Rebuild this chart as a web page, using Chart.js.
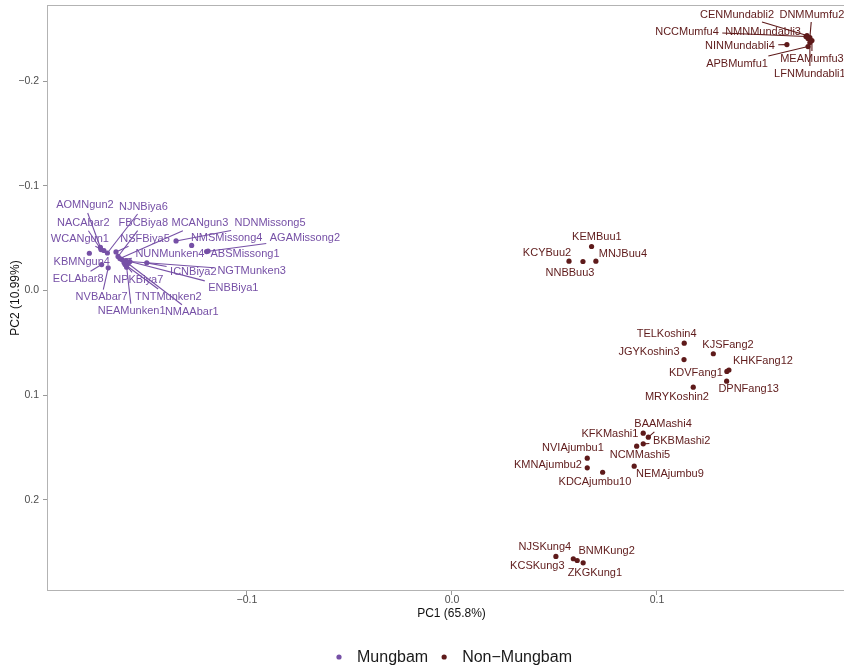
<!DOCTYPE html>
<html>
<head>
<meta charset="utf-8">
<script src="https://cdn.jsdelivr.net/npm/chart.js@4.4.0/dist/chart.umd.min.js"></script>
<style>
  html, body { margin: 0; padding: 0; background: #ffffff; overflow: hidden; }
  /* the figure is a little wider than the window and is cut at the right edge */
  #wrap { width: 844px; height: 668px; overflow: hidden; }
  #pca { display: block; }
</style>
</head>
<body>
<div id="wrap"><canvas id="pca" width="857" height="668"></canvas></div>
<script>
// ---- PCA scores ----
const mungbamNames = ['AOMNgun2','NACAbar2','WCANgun1','NJNBiya6','FBCBiya8','NSFBiya5','KBMNgun4','ECLAbar8','NVBAbar7','MCANgun3','NPKBiya7','NEAMunken1','TNTMunken2','NMAAbar1','NUNMunken4','ICNBiya2','NGTMunken3','ENBBiya1','NDNMissong5','NMSMissong4','AGAMissong2','ABSMissong1'];
const mungbamPC1 = [-0.1715,-0.1712,-0.1698,-0.1681,-0.1629,-0.1639,-0.1769,-0.1709,-0.1677,-0.1620,-0.1600,-0.1587,-0.1595,-0.1580,-0.1610,-0.1489,-0.1571,-0.1590,-0.1346,-0.1270,-0.1197,-0.1190];
const mungbamPC2 = [-0.0411,-0.0391,-0.0382,-0.0358,-0.0325,-0.0368,-0.0356,-0.0248,-0.0217,-0.0305,-0.0267,-0.0222,-0.0248,-0.0258,-0.0296,-0.0264,-0.0277,-0.0286,-0.0473,-0.0430,-0.0372,-0.0377];

const otherNames = ['CENMundabli2','DNMMumfu2','NCCMumfu4','NMNMundabli3','NINMundabli4','MEAMumfu3','APBMumfu1','LFNMundabli1','KEMBuu1','KCYBuu2','NNBBuu3','MNJBuu4','TELKoshin4','JGYKoshin3','KJSFang2','KHKFang12','KDVFang1','DPNFang13','MRYKoshin2','KFKMashi1','BAAMashi4','BKBMashi2','NCMMashi5','NVIAjumbu1','KMNAjumbu2','KDCAjumbu10','NEMAjumbu9','NJSKung4','KCSKung3','BNMKung2','ZKGKung1'];
const otherPC1 = [0.1732,0.1746,0.1727,0.1737,0.1634,0.1756,0.1737,0.1746,0.0681,0.0571,0.0639,0.0702,0.1133,0.1132,0.1275,0.1351,0.1341,0.1340,0.1177,0.0933,0.0958,0.0933,0.0901,0.0660,0.0660,0.0735,0.0889,0.0507,0.0592,0.0611,0.0640];
const otherPC2 = [-0.2434,-0.2415,-0.2425,-0.2406,-0.2348,-0.2387,-0.2329,-0.2368,-0.0420,-0.0280,-0.0277,-0.0280,0.0503,0.0659,0.0604,0.0759,0.0773,0.0866,0.0923,0.1362,0.1400,0.1464,0.1486,0.1601,0.1693,0.1735,0.1677,0.2539,0.2561,0.2578,0.2600];

const groupNames = ['Mungbam', 'Non\u2212Mungbam'];

const xTickValues = [-0.1, 0.0, 0.1];
const xTickLabels = ['\u22120.1', '0.0', '0.1'];
const yTickValues = [-0.2, -0.1, 0.0, 0.1, 0.2];
const yTickLabels = ['\u22120.2', '\u22120.1', '0.0', '0.1', '0.2'];

// ---- styling ----
const PURPLE = '#7650a6';
const MAROON = '#5e1a1a';
const FONT = '"Liberation Sans", Arial, Helvetica, sans-serif';

// label placement (pixel offset of each label centre from its point)
const labelNudge = {
  AOMNgun2: [-15.5, -42], NACAbar2: [-17.7, -26.3], WCANgun1: [-24, -11.7], NJNBiya6: [36, -46.5],
  FBCBiya8: [25.3, -33.3], NSFBiya5: [29, -13.2], KBMNgun4: [-7.6, 9], ECLAbar8: [-23.4, 14.3],
  NVBAbar7: [-6.6, 29.4], MCANgun3: [80, -35.3], NPKBiya7: [14.3, 17.3], NEAMunken1: [5, 44],
  TNTMunken2: [43.3, 32], NMAAbar1: [63.7, 48.7], NUNMunken4: [48, -5.7], ICNBiya2: [46.6, 8.7],
  NGTMunken3: [121.7, 9], ENBBiya1: [107.3, 27.7], NDNMissong5: [94, -17.8], NMSMissong4: [35, -7.3],
  AGAMissong2: [98.3, -13.3], ABSMissong1: [37, 2.8],
  CENMundabli2: [-70, -21], DNMMumfu2: [2, -23], NCCMumfu4: [-119, -5], NMNMundabli3: [-45, -7],
  NINMundabli4: [-47, 1], MEAMumfu3: [0, 18], APBMumfu1: [-71, 17], LFNMundabli1: [0, 31],
  KEMBuu1: [5.3, -10], KCYBuu2: [-22, -8.7], NNBBuu3: [-13, 11], MNJBuu4: [27, -7.7],
  TELKoshin4: [-17.6, -9.4], JGYKoshin3: [-35, -8], KJSFang2: [14.7, -9.3], KHKFang12: [34, -9],
  KDVFang1: [-31, 1], DPNFang13: [22, 8], MRYKoshin2: [-16.3, 9.3],
  KFKMashi1: [-33.3, 0.6], BAAMashi4: [14.7, -12.7], BKBMashi2: [38.4, -2.6], NCMMashi5: [3.3, 9.3],
  NVIAjumbu1: [-14.3, -10], KMNAjumbu2: [-39.3, -3.3], KDCAjumbu10: [-7.7, 10], NEMAjumbu9: [35.7, 7.6],
  NJSKung4: [-11, -9.3], KCSKung3: [-36, 7.7], BNMKung2: [29.4, -9.3], ZKGKung1: [11.7, 10.4]
};

const toPoints = (xs, ys) => xs.map((x, i) => ({ x: x, y: ys[i] }));

// panel border
const panelBorder = {
  id: 'panelBorder',
  afterDraw(chart) {
    const { ctx, chartArea: a } = chart;
    ctx.save();
    ctx.strokeStyle = '#b3b3b3';
    ctx.lineWidth = 1;
    ctx.strokeRect(Math.round(a.left) + 0.5, Math.round(a.top) + 0.5,
                   Math.round(a.right - a.left) - 1, Math.round(a.bottom - a.top) - 1);
    ctx.restore();
  }
};

// text labels with leader segments (segment runs from the point to the padded label box)
const pointLabels = {
  id: 'pointLabels',
  afterDatasetsDraw(chart) {
    const ctx = chart.ctx;
    ctx.save();
    ctx.font = '11px ' + FONT;
    ctx.textAlign = 'center';
    ctx.textBaseline = 'middle';
    const items = [];
    chart.data.datasets.forEach((ds, di) => {
      chart.getDatasetMeta(di).data.forEach((el, i) => {
        const name = ds.names[i];
        const off = labelNudge[name] || [0, -10];
        items.push({ name, px: el.x, py: el.y, lx: el.x + off[0], ly: el.y + off[1], color: ds.backgroundColor });
      });
    });
    items.forEach(it => {
      const hw = ctx.measureText(it.name).width / 2 + 3.5, hh = 7.5;
      const ux = it.px - it.lx, uy = it.py - it.ly;
      const t = Math.min(ux === 0 ? Infinity : hw / Math.abs(ux), uy === 0 ? Infinity : hh / Math.abs(uy));
      if (t >= 1) return;
      const ex = it.lx + ux * t, ey = it.ly + uy * t;
      if (Math.hypot(it.px - ex, it.py - ey) < 6) return;
      ctx.strokeStyle = it.color;
      ctx.lineWidth = 1.1;
      ctx.beginPath();
      ctx.moveTo(it.px, it.py);
      ctx.lineTo(ex, ey);
      ctx.stroke();
    });
    items.forEach(it => {
      ctx.fillStyle = it.color;
      ctx.fillText(it.name, it.lx, it.ly);
    });
    ctx.restore();
  }
};

// legend under the axis title
const bottomLegend = {
  id: 'bottomLegend',
  afterDraw(chart) {
    const { ctx, chartArea: a } = chart;
    ctx.save();
    ctx.font = '16px ' + FONT;
    ctx.textBaseline = 'middle';
    ctx.textAlign = 'left';
    const dsets = chart.data.datasets;
    const gapDot = 18, gapItem = 16;
    const widths = dsets.map(d => ctx.measureText(d.label).width);
    let total = 0;
    widths.forEach((w, i) => { total += gapDot + w + (i < widths.length - 1 ? gapItem : 0); });
    const cy = 657;
    let x = (a.left + a.right) / 2 - 0.5 - (total + 9) / 2 + 9;
    dsets.forEach((d, i) => {
      ctx.fillStyle = d.backgroundColor;
      ctx.beginPath();
      ctx.arc(x, cy, 2.6, 0, Math.PI * 2);
      ctx.fill();
      ctx.fillStyle = '#1a1a1a';
      ctx.fillText(d.label, x + gapDot, cy + 0.5);
      x += gapDot + widths[i] + gapItem;
    });
    ctx.restore();
  }
};

const noEdgePadding = s => { s.paddingTop = 0; s.paddingBottom = 0; s.paddingLeft = 0; s.paddingRight = 0; };

new Chart(document.getElementById('pca'), {
  type: 'scatter',
  data: {
    datasets: [
      { label: groupNames[0], names: mungbamNames, data: toPoints(mungbamPC1, mungbamPC2),
        backgroundColor: PURPLE, borderColor: PURPLE, pointRadius: 2.6, pointBorderWidth: 0 },
      { label: groupNames[1], names: otherNames, data: toPoints(otherPC1, otherPC2),
        backgroundColor: MAROON, borderColor: MAROON, pointRadius: 2.6, pointBorderWidth: 0 }
    ]
  },
  options: {
    responsive: false,
    animation: false,
    devicePixelRatio: 1,
    layout: { autoPadding: false, padding: { top: 5, right: 1, left: 0, bottom: 0 } },
    plugins: { legend: { display: false }, tooltip: { enabled: false } },
    scales: {
      x: {
        type: 'linear',
        min: -0.19756, max: 0.1971,
        afterBuildTicks: s => { s.ticks = xTickValues.map(v => ({ value: v })); },
        afterFit: s => { s.height = 77; noEdgePadding(s); },
        ticks: { callback: (v, i) => xTickLabels[i], color: '#4d4d4d', font: { family: FONT, size: 10.5 },
                 padding: -1, maxRotation: 0, autoSkip: false },
        grid: { drawOnChartArea: false, drawTicks: true, tickLength: 4, color: '#999999' },
        border: { display: false },
        title: { display: true, text: 'PC1 (65.8%)', color: '#111111', font: { family: FONT, size: 12 },
                 padding: { top: 0, bottom: 47 } }
      },
      y: {
        type: 'linear',
        reverse: true,
        min: -0.2726, max: 0.2869,
        afterBuildTicks: s => { s.ticks = yTickValues.map(v => ({ value: v })); },
        afterFit: s => { s.width = 47; noEdgePadding(s); },
        ticks: { callback: (v, i) => yTickLabels[i], color: '#4d4d4d', font: { family: FONT, size: 10.5 },
                 padding: 4, autoSkip: false },
        grid: { drawOnChartArea: false, drawTicks: true, tickLength: 4, color: '#999999' },
        border: { display: false },
        title: { display: true, text: 'PC2 (10.99%)', color: '#111111', font: { family: FONT, size: 12 },
                 padding: { top: 8, bottom: 0 } }
      }
    }
  },
  plugins: [panelBorder, pointLabels, bottomLegend]
});
</script>
</body>
</html>
